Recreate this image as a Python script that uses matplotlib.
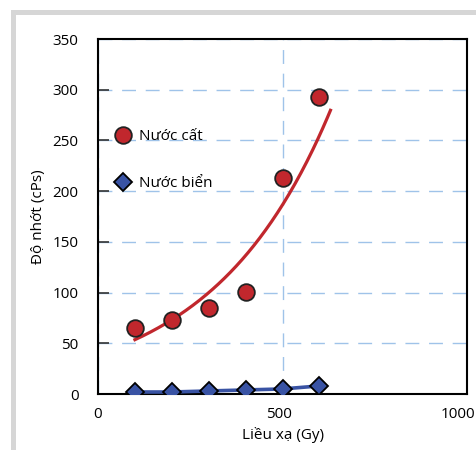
import matplotlib.pyplot as plt
import numpy as np
from matplotlib.lines import Line2D
from matplotlib.patches import Rectangle
from matplotlib.transforms import ScaledTranslation

plt.rcParams['font.family'] = ['Open Sans', 'DejaVu Sans']

# Liều xạ (Gy)
lieu_xa = [100, 200, 300, 400, 500, 600]
# Độ nhớt (cPs)
nuoc_cat = [65, 73, 85, 101, 213, 293]
nuoc_bien = [2, 2, 3, 4, 5, 8]

do_ = "#c1272d"
xanh = "#3953a4"
luoi = "#9fc3e9"

fig = plt.figure(figsize=(4.77, 4.5), dpi=100)
ax = fig.add_axes([0.2055, 0.1244, 0.7735, 0.7889])

# khung xám
fig.add_artist(Rectangle((11 / 477, 0), 5 / 477, 1 - 10 / 450, transform=fig.transFigure,
                         color="#d6d6d6", lw=0))
fig.add_artist(Rectangle((11 / 477, 1 - 15 / 450), 1, 5 / 450, transform=fig.transFigure,
                         color="#d6d6d6", lw=0))

# đường xu hướng hàm mũ (Excel)
b, ln_a = np.polyfit(lieu_xa, np.log(nuoc_cat), 1)
xs = np.linspace(lieu_xa[0], lieu_xa[-1] + 30, 200)
ax.plot(xs, np.exp(ln_a + b * xs), color=do_, lw=2.3, zorder=3)

ax.plot(lieu_xa, nuoc_cat, ls="none", marker="o", ms=12, mfc=do_, mec="#222222",
        mew=1.3, zorder=4)
ax.plot(lieu_xa, nuoc_bien, color=xanh, lw=2.6, marker="D", ms=9, mfc=xanh,
        mec="black", mew=1.3, zorder=4)

ax.set_xlim(0, 1000)
ax.set_ylim(0, 350)
ax.set_xticks([0, 500, 1000])
ax.set_yticks(range(0, 351, 50))
ax.grid(True, color=luoi, ls=(0, (10, 7)), lw=1.0)
ax.set_axisbelow(True)
ax.tick_params(axis="y", direction="in", length=8, width=1.2, color="#333333",
               labelsize=11, pad=14)
ax.tick_params(axis="x", length=0, labelsize=11, pad=9)
for s in ax.spines.values():
    s.set_linewidth(1.5)
    s.set_color("black")

# nhãn 1000 dịch sang trái cho khỏi bị cắt
nhan_x = ax.get_xticklabels()
for nhan, dx in zip(nhan_x, [0, -4, -9]):
    nhan.set_transform(nhan.get_transform() + ScaledTranslation(dx / 100, 0, fig.dpi_scale_trans))

ax.set_xlabel("Liều xạ (Gy)", fontsize=11, labelpad=4)
ax.set_ylabel("Độ nhớt (cPs)", fontsize=11, labelpad=5)

handles = [
    Line2D([], [], ls="none", marker="o", ms=12, mfc=do_, mec="#222222", mew=1.3),
    Line2D([], [], ls="none", marker="D", ms=9, mfc=xanh, mec="black", mew=1.3),
]
ax.legend(handles, ["Nước cất", "Nước biển"], loc="upper left",
          bbox_to_anchor=(0.0, 0.785), frameon=False, fontsize=11,
          labelspacing=2.1, handletextpad=0.3, handlelength=1.5)

plt.savefig("out.png", dpi=100)
